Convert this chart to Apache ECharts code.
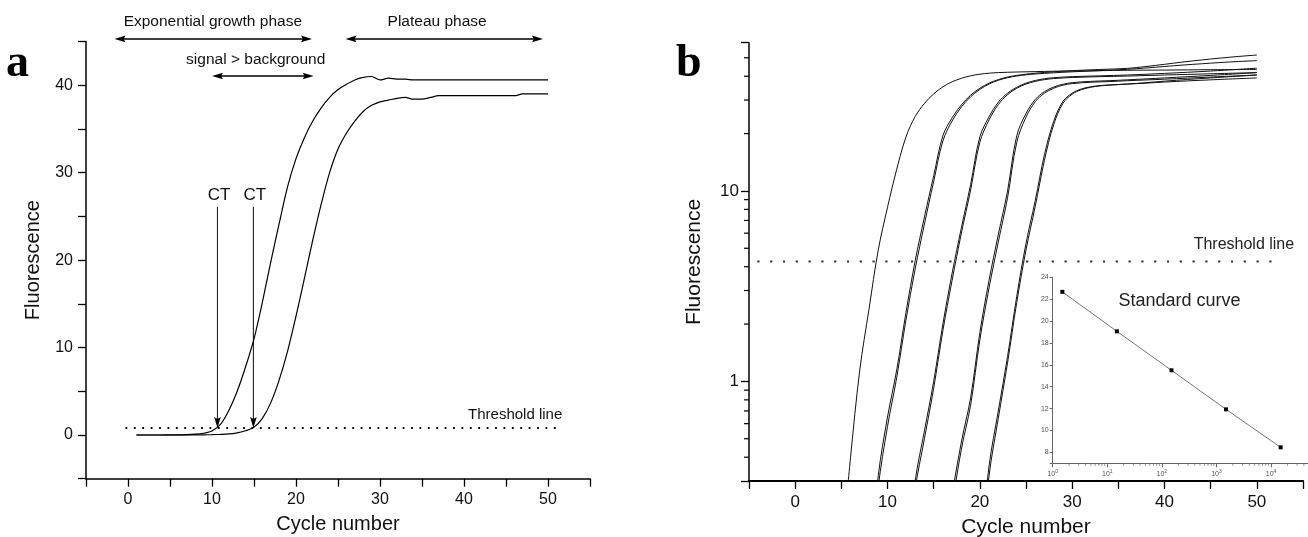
<!DOCTYPE html>
<html><head><meta charset="utf-8">
<script src="https://cdn.jsdelivr.net/npm/echarts@6/dist/echarts.min.js"></script>
<style>html,body{margin:0;padding:0;background:#fff}#c{width:1308px;height:537px}</style>
</head><body><div id="c"></div>
<script>
// ---------------- DATA ----------------
// Panel a: cycle numbers and two amplification curves
const cyclesA = [1,2,3,4,5,6,7,8,9,10,11,12,13,14,15,16,17,18,19,20,21,22,23,24,25,26,27,28,29,30,31,32,33,34,35,36,37,38,39,40,41,42,43,44,45,46,47,48,49,50];
const curveA1 = [0,0,0,0,0.01,0.02,0.04,0.09,0.2,0.45,1.2,2.8,5.0,7.8,11,15.2,19.8,24.2,28.4,31.6,34,35.9,37.4,38.6,39.5,40.1,40.6,40.9,41.0,40.6,40.8,40.7,40.7,40.6,40.6,40.6,40.6,40.6,40.6,40.6,40.6,40.6,40.6,40.6,40.6,40.6,40.6,40.6,40.6,40.6];
const curveA2 = [0,0,0,0,0,0,0,0.01,0.02,0.04,0.07,0.12,0.25,0.48,0.9,1.9,3.7,6.3,9.6,13.6,17.9,22.3,26.4,30,32.7,34.5,35.9,37,37.7,38.1,38.3,38.5,38.6,38.4,38.4,38.6,38.8,38.8,38.8,38.8,38.8,38.8,38.8,38.8,38.8,38.8,39,39,39,39];
const thresholdA = 0.8;
const thresholdAExtent = [-0.3, 51.5];
const ctCycles = [10.65, 14.93];

// Panel b: log-scale amplification curves, [cycle, fluorescence]
const bG1  = [[5,0.12],[6,0.4],[7,1.15],[8,2.4],[9,4.9],[10,8.2],[11,13.0],[12,19.2],[13,24.6],[14,28.8],[15,32.3],[16,35.2],[17,37.4],[18,39],[19,40.2],[20,41],[21,41.5],[22,41.8],[24,42.1],[26,42.3],[28,42.5],[30,42.6],[33,42.8],[36,43],[40,43.1],[45,43.3],[50,43.4]];
const bG2a = [[8,0.1],[9,0.32],[10,0.65],[11,1.15],[12,2.3],[13,4.3],[14,7.3],[15,12],[16,19.5],[17,24.2],[18,28.3],[19,31.8],[20,34.6],[21,36.8],[22,38.4],[23,39.6],[24,40.4],[25,41],[26,41.5],[28,42.2],[30,42.8],[33,43.4],[36,44],[38,45],[40,46.2],[42,47.5],[44,48.7],[46,49.8],[48,50.8],[50,51.7]];
const bG2b = [[8,0.09],[9,0.28],[10,0.58],[11,1.05],[12,2.1],[13,3.9],[14,6.7],[15,11.2],[16,18.3],[17,23.3],[18,27.6],[19,31.2],[20,34.1],[21,36.4],[22,38.1],[23,39.3],[24,40.1],[25,40.7],[26,41.1],[28,41.7],[30,42.2],[33,42.8],[36,43.5],[38,44.2],[40,45],[42,45.8],[44,46.5],[46,47.2],[48,47.8],[50,48.3]];
const bG3a = [[12,0.1],[13,0.3],[14,0.55],[15,1.0],[16,2.0],[17,3.7],[18,6.4],[19,10.8],[20,19.2],[21,24.5],[22,29.2],[23,32.6],[24,35],[25,36.8],[26,38],[27,38.8],[28,39.3],[30,39.8],[33,40.2],[36,40.6],[40,41.4],[45,42.6],[50,44.1]];
const bG3b = [[12,0.09],[13,0.27],[14,0.5],[15,0.92],[16,1.85],[17,3.4],[18,6.0],[19,10.1],[20,18],[21,23.6],[22,28.4],[23,32],[24,34.6],[25,36.4],[26,37.6],[27,38.4],[28,38.9],[30,39.4],[33,39.8],[36,40.1],[40,40.6],[45,41.2],[50,41.8]];
const bG4a = [[16,0.1],[17,0.25],[18,0.48],[19,0.82],[20,1.8],[21,3.4],[22,5.9],[23,10],[24,19.5],[25,25.5],[26,30.2],[27,33.2],[28,35.1],[29,36.3],[30,37],[32,37.6],[34,37.9],[36,38.3],[40,39.2],[45,40.4],[50,41.8]];
const bG4b = [[16,0.09],[17,0.22],[18,0.44],[19,0.75],[20,1.65],[21,3.1],[22,5.4],[23,9.2],[24,18],[25,24.4],[26,29.4],[27,32.6],[28,34.6],[29,35.9],[30,36.6],[32,37.2],[34,37.5],[36,37.9],[40,38.6],[45,39.6],[50,40.6]];
const bG5a = [[20,0.12],[21,0.36],[22,0.7],[23,1.35],[24,2.8],[25,5.3],[26,8.9],[27,15.5],[28,23.2],[29,29.5],[30,32.6],[31,34.3],[32,35.2],[33,35.7],[34,36],[36,36.4],[38,36.8],[40,37.3],[45,38.3],[50,39.2]];
const bG5b = [[20,0.1],[21,0.32],[22,0.64],[23,1.25],[24,2.6],[25,4.9],[26,8.3],[27,14.5],[28,22.3],[29,28.8],[30,32.2],[31,34],[32,35],[33,35.6],[34,35.9],[36,36.4],[38,37],[40,37.7],[45,39.2],[50,40.6]];
const thresholdB = 4.26;
const thresholdBExtent = [-4.1, 52.6];
const bYMinorTicks = [0.4,0.5,0.6,0.7,0.8,0.9,2,3,4,5,6,7,8,9,20,30,40,50];

// Inset: standard curve (starting copies vs CT)
const stdX = [1.5, 15, 150, 1500, 15000];
const stdCt = [22.67, 19.06, 15.5, 11.93, 8.46];
const insetXMinorTicks = [2,3,4,5,6,7,8,9,20,30,40,50,60,70,80,90,200,300,400,500,600,700,800,900,2000,3000,4000,5000,6000,7000,8000,9000,20000,30000,40000];

// ---------------- CHART ----------------
const SANS = "'Liberation Sans', Arial, sans-serif";
const chart = echarts.init(document.getElementById('c'), null, {renderer: 'canvas'});

function isPow10(v){ const l = Math.log10(v); return Math.abs(l - Math.round(l)) < 1e-6; }

const tenFmt = v => (Math.abs(v % 10) < 1e-9 && v >= 0 && v <= 50) ? String(Math.round(v)) : '';

function linAxis(grid, min, max, name, gap, fs, lfs, extra){
  return Object.assign({
    type: 'value', gridIndex: grid, min, max, interval: 5,
    name, nameLocation: 'middle', nameGap: gap,
    nameTextStyle: {fontFamily: SANS, fontSize: fs, color: '#111'},
    axisLine: {show: true, onZero: false, lineStyle: {color: '#000', width: 1.5}},
    axisTick: {show: true, inside: false, length: 8, lineStyle: {color: '#000', width: 1.3}},
    axisLabel: {show: true, margin: 13, fontFamily: SANS, fontSize: lfs, color: '#111', formatter: tenFmt, hideOverlap: false},
    splitLine: {show: false}
  }, extra || {});
}

const lineStyleB = {color: '#111', width: 1};
function bSeries(d){
  return {type: 'line', xAxisIndex: 1, yAxisIndex: 1, data: d, smooth: 0.35, showSymbol: false,
          lineStyle: lineStyleB, silent: true, clip: true, z: 3};
}

const option = {
  animation: false,
  backgroundColor: '#fff',
  grid: [
    {left: 86, top: 41.5, width: 504, height: 437.2, containLabel: false, outerBoundsMode: 'none'},
    {left: 749, top: 42.7, width: 554, height: 438.3, containLabel: false, outerBoundsMode: 'none'},
    {left: 1052.7, top: 277.3, width: 256, height: 186, containLabel: false, outerBoundsMode: 'none'}
  ],
  xAxis: [
    linAxis(0, -5, 55, 'Cycle number', 36, 20, 16),
    linAxis(1, -5, 55, 'Cycle number', 36, 21, 17, {axisLine: {show: true, onZero: false, lineStyle: {color: '#000', width: 2.2}}}),
    {type: 'log', logBase: 10, gridIndex: 2, min: 1, max: 49000,
     axisLine: {show: true, onZero: false, lineStyle: {color: '#666', width: 1}},
     axisTick: {show: true, length: 4, lineStyle: {color: '#666'}},
     axisLabel: {show: true, margin: 6, color: '#555', fontFamily: SANS, fontSize: 7,
       formatter: v => isPow10(v) && v < 40000 ? '10{s|' + Math.round(Math.log10(v)) + '}' : '',
       rich: {s: {fontSize: 5, verticalAlign: 'top', color: '#555', padding: [0,0,4,0]}}},
     splitLine: {show: false}}
  ],
  yAxis: [
    linAxis(0, -5, 45, 'Fluorescence', 43, 20, 16),
    {type: 'log', logBase: 10, gridIndex: 1, min: 0.3, max: 60,
     name: 'Fluorescence', nameLocation: 'middle', nameGap: 44,
     nameTextStyle: {fontFamily: SANS, fontSize: 21, color: '#111'},
     axisLine: {show: true, onZero: false, lineStyle: {color: '#000', width: 1.5}},
     axisTick: {show: true, length: 8, lineStyle: {color: '#000', width: 1.3}},
     axisLabel: {show: true, margin: 10, fontFamily: SANS, fontSize: 17, color: '#111',
       formatter: v => (isPow10(v) && v >= 1 && v <= 10) ? String(Math.round(v)) : ''},
     splitLine: {show: false}},
    {type: 'value', gridIndex: 2, min: 7, max: 24, minInterval: 2, maxInterval: 2,
     axisLine: {show: true, onZero: false, lineStyle: {color: '#666', width: 1}},
     axisTick: {show: true, length: 3, lineStyle: {color: '#666'}},
     axisLabel: {show: true, margin: 4, color: '#555', fontFamily: SANS, fontSize: 7,
       formatter: v => (Math.round(v) % 2 === 0) ? String(Math.round(v)) : ''},
     splitLine: {show: false}}
  ],
  series: [
    {type: 'line', xAxisIndex: 0, yAxisIndex: 0, data: cyclesA.map((c, i) => [c, curveA1[i]]),
     smooth: 0.3, showSymbol: false, lineStyle: {color: '#000', width: 1.2}, silent: true},
    {type: 'line', xAxisIndex: 0, yAxisIndex: 0, data: cyclesA.map((c, i) => [c, curveA2[i]]),
     smooth: 0.3, showSymbol: false, lineStyle: {color: '#000', width: 1.2}, silent: true},
    {type: 'line', xAxisIndex: 0, yAxisIndex: 0, data: thresholdAExtent.map(x => [x, thresholdA]),
     showSymbol: false, silent: true,
     lineStyle: {color: '#000', width: 1.8, type: [1.8, 6.6]}},
    bSeries(bG1), bSeries(bG2a), bSeries(bG2b), bSeries(bG3a), bSeries(bG3b),
    bSeries(bG4a), bSeries(bG4b), bSeries(bG5a), bSeries(bG5b),
    {type: 'line', xAxisIndex: 1, yAxisIndex: 1, data: thresholdBExtent.map(x => [x, thresholdB]),
     showSymbol: false, silent: true,
     lineStyle: {color: '#333', width: 2.2, type: [2.2, 10.6]}},
    {type: 'custom', xAxisIndex: 1, yAxisIndex: 1, clip: false, silent: true,
     data: bYMinorTicks.map(v => [-5, v]),
     renderItem: (params, api) => {
       const p = api.coord([api.value(0), api.value(1)]);
       return {type: 'line', shape: {x1: p[0] - 5, y1: p[1], x2: p[0], y2: p[1]},
               style: {stroke: '#000', lineWidth: 1.2}};
     }},
    {type: 'line', xAxisIndex: 2, yAxisIndex: 2, data: stdX.map((x, i) => [x, stdCt[i]]),
     symbol: 'rect', symbolSize: 4, showSymbol: true, itemStyle: {color: '#000'},
     lineStyle: {color: '#777', width: 1}, silent: true, z: 5},
    {type: 'custom', xAxisIndex: 2, yAxisIndex: 2, clip: false, silent: true,
     data: insetXMinorTicks.map(v => [v, 7]),
     renderItem: (params, api) => {
       const p = api.coord([api.value(0), api.value(1)]);
       return {type: 'line', shape: {x1: p[0], y1: p[1], x2: p[0], y2: p[1] + 2.5},
               style: {stroke: '#777', lineWidth: 0.8}};
     }}
  ]
};
chart.setOption(option);

// ---------------- ANNOTATIONS (positioned through the axes) ----------------
const annA = {
  expArrow: {x1: -1.6, x2: 21.9, y: 45.3},
  platArrow: {x1: 25.9, x2: 49.4, y: 45.3},
  sigArrow: {x1: 10.0, x2: 22.1, y: 41.06},
  ctTop: 26.1,
  ctLabelY: 27.4,
  labels: [
    {text: 'Exponential growth phase', x: 10.1, y: 47.3, size: 15.5},
    {text: 'Plateau phase', x: 36.8, y: 47.3, size: 15.5},
    {text: 'signal > background', x: 15.2, y: 42.9, size: 15.5}
  ],
  thrLabel: {text: 'Threshold line', x: 51.7, y: 2.26, size: 15}
};
const annB = {thrLabel: {text: 'Threshold line', x: 48.6, y: 5.25, size: 16}};
const annInset = {text: 'Standard curve', x: 210, y: 21.86, size: 18};

const P = (g, x, y) => chart.convertToPixel({gridIndex: g}, [x, y]);
const els = [];
function hArrow(g, a, w){
  const p1 = P(g, a.x1, a.y), p2 = P(g, a.x2, a.y);
  const L = 11, h = 3.3, y = p1[1];
  els.push({type: 'line', silent: true, shape: {x1: p1[0] + 4, y1: y, x2: p2[0] - 4, y2: y}, style: {stroke: '#000', lineWidth: w}});
  els.push({type: 'polygon', silent: true, shape: {points: [[p1[0], y], [p1[0] + L, y - h], [p1[0] + L - 2, y], [p1[0] + L, y + h]]}, style: {fill: '#000'}});
  els.push({type: 'polygon', silent: true, shape: {points: [[p2[0], y], [p2[0] - L, y - h], [p2[0] - L + 2, y], [p2[0] - L, y + h]]}, style: {fill: '#000'}});
}
function txt(g, t, color){
  const p = P(g, t.x, t.y);
  els.push({type: 'text', silent: true, x: p[0], y: p[1],
    style: {text: t.text, fill: color || '#111', font: t.size + 'px ' + SANS, align: t.align || 'center', verticalAlign: 'middle'}});
}
hArrow(0, annA.expArrow, 1.5);
hArrow(0, annA.platArrow, 1.5);
hArrow(0, annA.sigArrow, 1.5);
annA.labels.forEach(t => txt(0, t));
ctCycles.forEach(c => {
  const top = P(0, c, annA.ctTop), tip = P(0, c, thresholdA);
  const L = 11, h = 3.3;
  els.push({type: 'line', silent: true, shape: {x1: top[0], y1: top[1], x2: tip[0], y2: tip[1] - 4}, style: {stroke: '#222', lineWidth: 1.1}});
  els.push({type: 'polygon', silent: true, shape: {points: [[tip[0], tip[1]], [tip[0] - h, tip[1] - L], [tip[0], tip[1] - L + 2], [tip[0] + h, tip[1] - L]]}, style: {fill: '#000'}});
  txt(0, {text: 'CT', x: c + 0.18, y: annA.ctLabelY, size: 17});
});
txt(0, Object.assign({}, annA.thrLabel, {align: 'right'}));
txt(1, annB.thrLabel, '#222');
txt(2, annInset, '#222');
els.push({type: 'text', silent: true, x: 6, y: 64.5, style: {text: 'a', fill: '#000', font: 'bold 46px "Liberation Serif", serif', align: 'left', verticalAlign: 'middle'}});
els.push({type: 'text', silent: true, x: 676, y: 64.5, style: {text: 'b', fill: '#000', font: 'bold 46px "Liberation Serif", serif', align: 'left', verticalAlign: 'middle'}});
chart.setOption({graphic: {elements: els}});
</script>
</body></html>
